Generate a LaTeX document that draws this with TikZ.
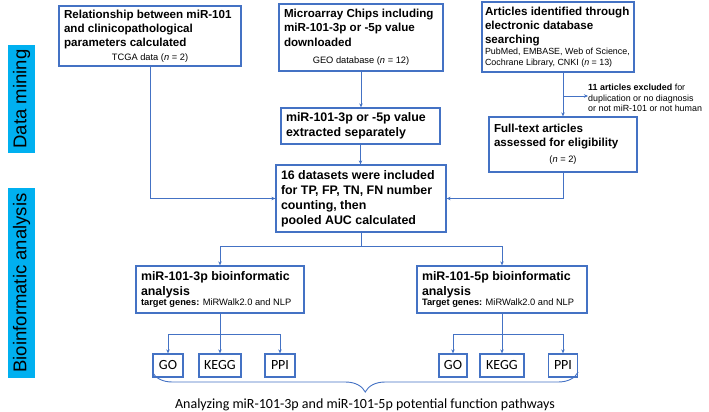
\documentclass[tikz,border=0pt]{standalone}
\usepackage{fontspec}
\setmainfont{Liberation Sans}
\newfontfamily\calibri{Carlito}
\usetikzlibrary{arrows.meta,decorations.pathreplacing}
\definecolor{boxblue}{HTML}{4472C4}
\definecolor{tabblue}{HTML}{00B0F0}
\newcommand{\smalltxt}{\fontsize{9.3}{10.8}\selectfont\mdseries}

\begin{document}
\begin{tikzpicture}[x=1pt,y=-1pt,
  box/.style={draw=boxblue,line width=1.3pt,rectangle,inner xsep=5pt,inner ysep=1pt,
    align=flush left,font=\fontsize{11.6}{14.3}\selectfont\bfseries},
  bigbox/.style={box,font=\fontsize{12.4}{15}\selectfont\bfseries},
  leaf/.style={draw=boxblue,line width=1.3pt,rectangle,inner sep=0pt,minimum height=23pt,
    font=\calibri\fontsize{14}{16}\selectfont},
  link/.style={draw=boxblue,line width=0.9pt},
  arr/.style={link,-{Stealth[length=4pt,width=3.5pt]}},
  tab/.style={fill=tabblue,rotate=90,inner sep=0pt,minimum height=27pt,
    font=\fontsize{18.5}{20}\selectfont}]
\useasboundingbox (0,0) rectangle (709,412);
% side tabs
\node[tab,minimum width=108pt] (mining) at (21.5,99) {Data mining};
\node[tab,minimum width=190pt] (bioinf) at (21.5,283) {Bioinformatic analysis};
% data mining
\node[box,minimum width=182pt,minimum height=60pt,text width=172pt] (tcga) at (150,36)
  {Relationship between miR-101\\and clinicopathological\\parameters calculated\par\vspace{3pt}
  {\centering\smalltxt TCGA data (\textit{n} = 2)\par}};
\node[box,minimum width=164pt,minimum height=67pt,text width=154pt] (geo) at (361,37.5)
  {Microarray Chips including\\miR-101-3p or -5p value\\downloaded\par\vspace{7pt}
  {\centering\smalltxt GEO database (\textit{n} = 12)\par}};
\node[box,minimum width=152pt,minimum height=70pt,text width=146pt,inner xsep=3pt] (lit) at (558,37)
  {Articles identified through\\electronic database\\searching\par
  {\fontsize{8.9}{10.6}\selectfont\mdseries PubMed, EMBASE, Web of Science,\\Cochrane Library, CNKI (\textit{n} = 13)\par}};
\node[bigbox,minimum width=159pt,minimum height=36pt,text width=149pt] (sep) at (360.5,126)
  {miR-101-3p or -5p value\\extracted separately};
\node[box,minimum width=148pt,minimum height=55pt,text width=138pt] (full) at (563,144.5)
  {Full-text articles\\assessed for eligibility\par\vspace{5pt}
  {\centering\smalltxt (\textit{n} = 2)\par}};
\node[align=left,anchor=west,inner sep=0pt,font=\fontsize{8.9}{10.4}\selectfont] (excl) at (588,98)
  {\textbf{11 articles excluded} for\\duplication or no diagnosis\\or not miR-101 or not human};
\node[bigbox,minimum width=170pt,minimum height=67pt,text width=160pt] (pool) at (361,198.5)
  {16 datasets were included\\for TP, FP, TN, FN number\\counting, then\\pooled AUC calculated};
% bioinformatic analysis
\node[bigbox,minimum width=168pt,minimum height=47pt,text width=158pt] (mir3) at (220,289.5)
  {miR-101-3p bioinformatic\\analysis\par
  {\smalltxt\textbf{target genes:} MiRWalk2.0 and NLP\par}};
\node[bigbox,minimum width=170pt,minimum height=47pt,text width=160pt] (mir5) at (502,289.5)
  {miR-101-5p bioinformatic\\analysis\par
  {\smalltxt\textbf{Target genes:} MiRWalk2.0 and NLP\par}};
\node[leaf,minimum width=30pt] (go3) at (168,365.5) {GO};
\node[leaf,minimum width=42pt] (kegg3) at (220,365.5) {KEGG};
\node[leaf,minimum width=30pt] (ppi3) at (280,365.5) {PPI};
\node[leaf,minimum width=28pt] (go5) at (453,365.5) {GO};
\node[leaf,minimum width=44pt] (kegg5) at (502,365.5) {KEGG};
\node[leaf,minimum width=29pt] (ppi5) at (563,365.5) {PPI};
\node[font=\calibri\fontsize{14}{16}\selectfont,inner sep=0pt] (aim) at (365,405)
  {Analyzing miR-101-3p and miR-101-5p potential function pathways};
% connectors
\draw[arr] (tcga.south) |- (pool.west);
\draw[arr] (geo.south) -- (geo.south |- sep.north);
\draw[arr] (sep.south) -- (sep.south |- pool.north);
\draw[arr] (full.north |- lit.south) -- (full.north);
\coordinate (cut) at (563,96);
\draw[arr] (cut) -- (cut -| excl.west);
\draw[arr] (full.south) |- (pool.east);
\coordinate (split) at (361,246);
\draw[link] (pool.south) -- (split);
\draw[arr] (split) -| (mir3.north);
\draw[arr] (split) -| (mir5.north);
\coordinate (s3) at (220,334);
\coordinate (s5) at (502,334);
\draw[link] (mir3.south) -- (s3);
\draw[arr] (s3) -| (go3.north);
\draw[arr] (s3) -- (kegg3.north);
\draw[arr] (s3) -| (ppi3.north);
\draw[link] (mir5.south) -- (s5);
\draw[arr] (s5) -| (go5.north);
\draw[arr] (s5) -- (kegg5.north);
\draw[arr] (s5) -| (ppi5.north);
\draw[link,decorate,decoration={brace,mirror,amplitude=20pt}]
  (go3.south west |- 0,372) -- (ppi5.south east |- 0,372);
\end{tikzpicture}
\end{document}
